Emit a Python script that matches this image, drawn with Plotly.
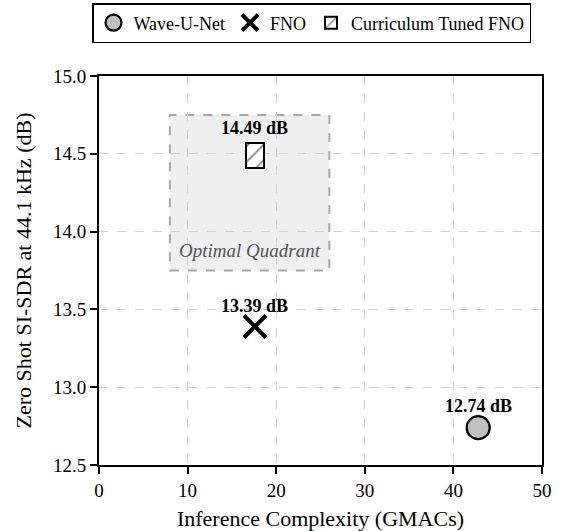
import plotly.graph_objects as go

models = ["Wave-U-Net", "FNO", "Curriculum Tuned FNO"]
gmacs = [42.8, 17.6, 17.6]
sisdr = [12.74, 13.39, 14.49]
labels = ["12.74 dB", "13.39 dB", "14.49 dB"]
quad_x = [8, 26]
quad_y = [13.75, 14.75]
x_ticks = [0, 10, 20, 30, 40, 50]
y_ticks = [12.5, 13.0, 13.5, 14.0, 14.5, 15.0]

FONT = "Liberation Serif"

fig = go.Figure()

# Wave-U-Net
fig.add_trace(go.Scatter(
    x=[gmacs[0]], y=[sisdr[0]], mode="markers", name=models[0],
    marker=dict(symbol="circle", size=23, color="#c0c0c0",
                line=dict(color="black", width=2.2)),
))
# FNO
fig.add_trace(go.Scatter(
    x=[gmacs[1]], y=[sisdr[1]], mode="markers", name=models[1],
    marker=dict(symbol="x-thin-open", size=22, color="black",
                line=dict(color="black", width=4)),
))
# Curriculum Tuned FNO (hatched rectangle via bar)
bw = 2.1
bh = 0.165
fig.add_trace(go.Bar(
    x=[gmacs[2]], y=[bh], base=[sisdr[2] - bh / 2], width=[bw], name=models[2],
    marker=dict(color="white", line=dict(color="black", width=2),
                pattern=dict(shape="/", size=11, solidity=0.15, fgcolor="black", bgcolor="white")),
))

for xv, yv, t, sh in zip(gmacs, sisdr, labels, [22, 21, 27]):
    fig.add_annotation(x=xv, y=yv, text="<b>" + t + "</b>", showarrow=False,
                       yshift=sh, font=dict(family=FONT, size=18, color="black"))

fig.add_shape(type="rect", x0=quad_x[0], x1=quad_x[1], y0=quad_y[0], y1=quad_y[1],
              layer="below", fillcolor="#efefef",
              line=dict(color="#a8a8a8", width=2, dash="dash"))
fig.add_annotation(x=(quad_x[0] + quad_x[1]) / 2, y=13.88, text="<i>Optimal Quadrant</i>",
                   showarrow=False, font=dict(family=FONT, size=19, color="#555555"))

axis_common = dict(
    showline=True, linecolor="black", linewidth=2, mirror=True,
    ticks="outside", ticklen=7, tickwidth=1.5, tickcolor="black",
    showgrid=True, gridcolor="#d0d0d0", gridwidth=1, griddash="dash",
    zeroline=False, tickfont=dict(family=FONT, size=19, color="black"),
    automargin=False,
)

fig.update_xaxes(range=[0, 50], tickvals=x_ticks, ticktext=[str(v) for v in x_ticks],
                 title=dict(text="Inference Complexity (GMACs)", font=dict(family=FONT, size=22, color="black")),
                 **axis_common)
fig.update_yaxes(range=[12.5, 15.0], tickvals=y_ticks, ticktext=[f"{v:.1f}" for v in y_ticks],
                 title=dict(text="Zero Shot SI-SDR at 44.1 kHz (dB)", font=dict(family=FONT, size=22, color="black")),
                 **axis_common)

fig.update_layout(
    width=570, height=531,
    margin=dict(l=99, r=28, t=76, b=66, autoexpand=False),
    plot_bgcolor="white", paper_bgcolor="white",
    font=dict(family=FONT, size=18, color="black"),
    showlegend=True,
    legend=dict(orientation="h", x=92 / 570, xanchor="left", xref="container",
                y=1 - 3 / 531, yanchor="top", yref="container",
                bordercolor="black", borderwidth=1.5, bgcolor="white",
                font=dict(family=FONT, size=18, color="black"),
                itemsizing="trace", itemwidth=30, tracegroupgap=0),
    bargap=0,
)

fig.write_html("out.html", config={"displayModeBar": False},
               post_script="document.body.style.margin='0px';")
